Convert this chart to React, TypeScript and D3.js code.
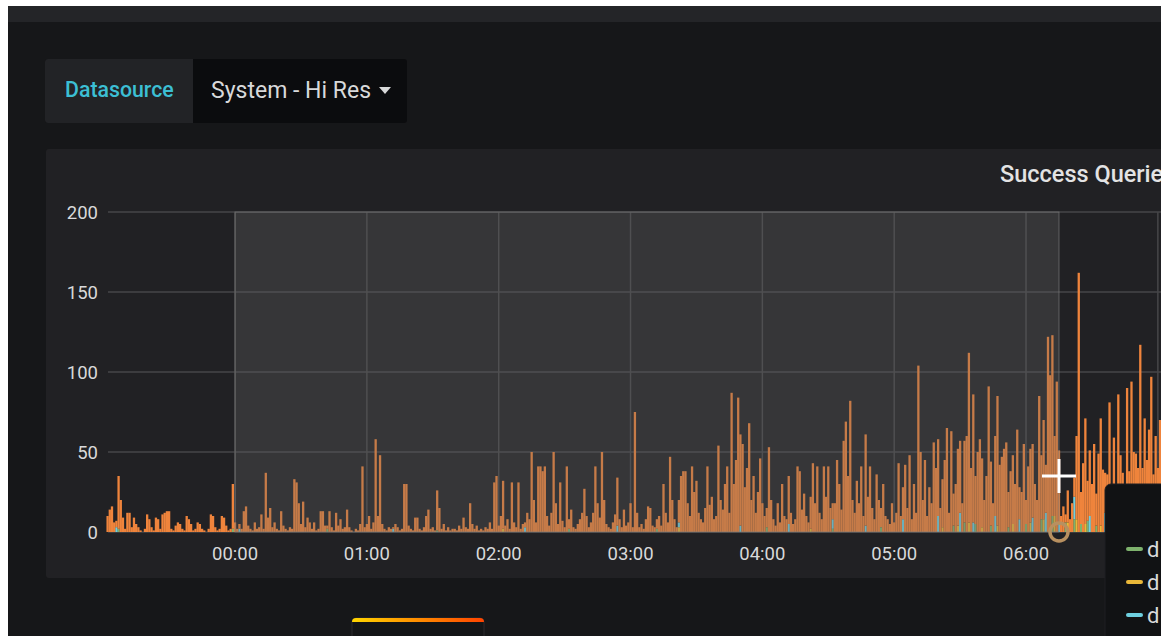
import React, { useEffect, useRef } from "react";
import * as d3 from "d3";

// y axis ticks
const yTicks = [0, 50, 100, 150, 200];

// first sample is 23:02, one sample per minute
const startTime = new Date(2018, 0, 1, 23, 2);
const endTime = new Date(2018, 0, 2, 7, 10);

// selected range (brushed area) and hover time
const selectionStart = new Date(2018, 0, 2, 0, 0);
const selectionEnd = new Date(2018, 0, 2, 6, 15);
const hoverValue = 35;

// orange series (per minute)
const orangeValues = [
  10, 14, 16, 6, 4, 33, 20, 9, 2, 12, 12, 3, 9, 5, 3, 1, 0, 2, 11, 8,
  3, 1, 9, 8, 2, 11, 12, 13, 13, 2, 1, 4, 6, 5, 2, 1, 10, 8, 5, 1,
  2, 6, 5, 2, 1, 0, 2, 11, 10, 3, 1, 2, 10, 9, 4, 1, 2, 28, 6, 2,
  3, 2, 13, 16, 4, 2, 1, 6, 2, 3, 11, 2, 37, 9, 15, 3, 6, 2, 1, 13,
  4, 2, 1, 3, 2, 33, 31, 18, 5, 19, 3, 9, 6, 2, 6, 1, 2, 13, 13, 4,
  2, 13, 3, 1, 12, 4, 8, 2, 3, 14, 3, 1, 0, 2, 1, 5, 41, 3, 5, 10,
  2, 6, 58, 10, 48, 5, 2, 1, 3, 2, 1, 5, 3, 1, 2, 30, 30, 4, 2, 1,
  9, 9, 2, 1, 3, 10, 14, 2, 3, 1, 25, 15, 2, 5, 1, 3, 1, 2, 2, 1,
  4, 2, 9, 3, 2, 18, 5, 2, 4, 1, 2, 1, 3, 2, 6, 2, 31, 35, 4, 10,
  30, 4, 8, 2, 31, 6, 3, 31, 2, 5, 3, 12, 8, 50, 20, 6, 41, 41, 38, 41,
  10, 4, 12, 50, 18, 5, 31, 7, 3, 41, 6, 14, 3, 2, 5, 8, 12, 27, 10, 3,
  6, 12, 41, 18, 9, 50, 20, 5, 3, 2, 6, 11, 30, 8, 3, 14, 4, 6, 18, 3,
  75, 12, 3, 5, 2, 8, 16, 15, 4, 3, 6, 10, 4, 30, 12, 6, 47, 20, 8, 3,
  14, 35, 38, 38, 18, 10, 41, 25, 32, 12, 8, 6, 15, 41, 17, 22, 8, 10, 54, 20,
  14, 30, 41, 12, 87, 30, 45, 84, 57, 55, 28, 40, 68, 20, 35, 12, 25, 46, 18, 10,
  12, 53, 20, 8, 4, 18, 6, 30, 10, 8, 30, 12, 5, 8, 41, 38, 14, 24, 10, 6,
  20, 43, 18, 41, 12, 8, 41, 22, 41, 15, 10, 18, 45, 30, 14, 57, 69, 35, 82, 20,
  12, 32, 18, 41, 10, 57, 22, 41, 15, 8, 36, 20, 12, 30, 10, 8, 5, 18, 6, 12,
  43, 10, 20, 42, 15, 48, 8, 30, 12, 104, 50, 20, 45, 10, 28, 18, 56, 40, 48, 15,
  30, 45, 65, 12, 63, 20, 30, 48, 45, 18, 51, 60, 106, 40, 80, 30, 50, 58, 43, 20,
  35, 91, 40, 18, 50, 81, 42, 47, 52, 56, 22, 38, 43, 30, 64, 20, 25, 55, 15, 41,
  46, 46, 30, 20, 85, 40, 62, 30, 122, 98, 113, 50, 94, 45, 10, 16, 5, 20, 8, 18,
  12, 52, 162, 20, 43, 66, 25, 41, 30, 55, 20, 49, 67, 39, 25, 30, 81, 20, 53, 30,
  81, 40, 37, 25, 90, 35, 94, 50, 45, 30, 112, 40, 71, 45, 58, 97, 30, 60, 40, 70, 105, 50,
];

// small series, [minute index, value], zero elsewhere
const greenPoints = [
  [5, 2], [57, 2], [100, 2], [150, 1], [210, 2], [250, 2], [300, 3], [330, 2], [352, 3],
  [385, 4], [390, 6], [395, 5], [402, 4], [410, 3], [418, 5], [425, 8], [430, 10], [436, 6],
  [440, 8], [443, 5], [446, 7], [450, 4], [455, 6], [460, 5], [468, 4], [474, 6],
];
const yellowPoints = [
  [180, 2], [260, 3], [320, 2], [380, 3], [387, 4], [392, 6], [398, 3], [405, 4], [412, 5],
  [420, 6], [426, 8], [431, 10], [437, 6], [441, 8], [445, 5], [452, 4], [458, 6], [465, 3], [470, 5],
];
const cyanPoints = [
  [4, 3], [60, 2], [130, 2], [190, 3], [232, 4], [260, 3], [288, 4], [310, 5], [330, 6],
  [345, 4], [362, 8], [378, 10], [388, 12], [394, 6], [404, 10], [415, 8], [421, 9], [427, 12],
  [433, 6], [440, 14], [447, 10], [454, 12], [461, 8], [469, 10], [476, 6],
];

const seriesColors = ["#7EB26D", "#EAB839", "#6ED0E0", "#EF843C"];
const legendLabels = ["d", "d", "d"];

const W = 1169;
const H = 636;

export default function App() {
  const ref = useRef<SVGSVGElement>(null);

  useEffect(() => {
    const svg = d3.select(ref.current);
    svg.selectAll("*").remove();

    const font = "Roboto, 'Helvetica Neue', Arial, sans-serif";
    const defs = svg.append("defs");
    defs.append("clipPath").attr("id", "page")
      .append("rect").attr("x", 8).attr("y", 6).attr("width", 1153).attr("height", 630);
    const grad = defs.append("linearGradient").attr("id", "tabGrad");
    grad.append("stop").attr("offset", "0%").attr("stop-color", "#ffd500");
    grad.append("stop").attr("offset", "100%").attr("stop-color", "#ff4400");

    svg.append("rect").attr("width", W).attr("height", H).attr("fill", "#ffffff");

    const page = svg.append("g").attr("clip-path", "url(#page)");
    page.append("rect").attr("x", 8).attr("y", 6).attr("width", 1153).attr("height", 630).attr("fill", "#161719");
    page.append("rect").attr("x", 8).attr("y", 6).attr("width", 1153).attr("height", 16).attr("fill", "#242528");

    // Datasource variable
    page.append("rect").attr("x", 45).attr("y", 59).attr("width", 362).attr("height", 64)
      .attr("rx", 3).attr("fill", "#0b0c0e");
    page.append("path").attr("d", "M48,59 H193 V123 H48 Q45,123 45,120 V62 Q45,59 48,59 Z").attr("fill", "#222326");
    page.append("text").attr("x", 65).attr("y", 97).attr("font-family", font).attr("font-size", 21.3)
      .attr("font-weight", 500).attr("fill", "#3cbfd4").text("Datasource");
    page.append("text").attr("x", 211).attr("y", 98).attr("font-family", font).attr("font-size", 23)
      .attr("fill", "#d8d9da").text("System - Hi Res");
    page.append("path").attr("d", "M379,87 L391,87 L385,94 Z").attr("fill", "#d8d9da");

    // panel
    page.append("rect").attr("x", 46).attr("y", 149).attr("width", 1140).attr("height", 429)
      .attr("rx", 3).attr("fill", "#212124");
    page.append("text").attr("x", 1000).attr("y", 182).attr("font-family", font).attr("font-size", 23.5)
      .attr("font-weight", 500).attr("fill", "#e3e3e3").text("Success Queries");

    const x = d3.scaleTime()
      .domain([startTime, endTime])
      .range([107.6, 107.6 + 488 * 2.1972]);
    const y = d3.scaleLinear().domain([0, 200]).range([532, 212]);

    // grid
    const grid = page.append("g");
    grid.selectAll("line.h").data(yTicks).enter().append("line")
      .attr("x1", 108).attr("x2", 1200)
      .attr("y1", d => y(d)).attr("y2", d => y(d))
      .attr("stroke", "#464648").attr("stroke-width", 1.5);
    const hours = x.ticks(d3.timeHour.every(1));
    grid.selectAll("line.v").data(hours).enter().append("line")
      .attr("x1", d => x(d)).attr("x2", d => x(d))
      .attr("y1", y(200)).attr("y2", y(0))
      .attr("stroke", "#464648").attr("stroke-width", 1.5);

    // stacked bars
    const toArr = (pts: number[][]) => {
      const a = orangeValues.map(() => 0);
      pts.forEach(([i, v]) => { a[i] = v; });
      return a;
    };
    const green = toArr(greenPoints);
    const yellow = toArr(yellowPoints);
    const cyan = toArr(cyanPoints);
    const rows = orangeValues.map((o, i) => ({
      t: d3.timeMinute.offset(startTime, i),
      g: green[i], y: yellow[i], c: cyan[i], o,
    }));
    const stack = d3.stack<any>().keys(["g", "y", "c", "o"]);
    const layers = stack(rows);
    const bw = 2.3;
    page.append("g").selectAll("g").data(layers).enter().append("g")
      .attr("fill", (d, i) => seriesColors[i])
      .selectAll("rect").data(d => d).enter().append("rect")
      .attr("x", d => x(d.data.t) - bw / 2)
      .attr("width", bw)
      .attr("y", d => y(d[1]))
      .attr("height", d => Math.max(0, y(d[0]) - y(d[1])));

    // selection overlay
    page.append("rect")
      .attr("x", x(selectionStart)).attr("y", y(200))
      .attr("width", x(selectionEnd) - x(selectionStart)).attr("height", y(0) - y(200))
      .attr("fill", "rgba(102,102,102,0.3)")
      .attr("stroke", "rgba(120,120,120,0.7)").attr("stroke-width", 1);

    // y labels
    page.append("g").selectAll("text").data(yTicks).enter().append("text")
      .attr("x", 98).attr("y", d => y(d) + 7).attr("text-anchor", "end")
      .attr("font-family", font).attr("font-size", 18.5).attr("fill", "#d8d9da")
      .text(d => d);
    // x labels (the last hour sits under the tooltip)
    page.append("g").selectAll("text").data(hours.filter(d => x(d) < 1100)).enter().append("text")
      .attr("x", d => x(d)).attr("y", 560).attr("text-anchor", "middle")
      .attr("font-family", font).attr("font-size", 18.5).attr("fill", "#d8d9da")
      .text(d => d3.timeFormat("%H:%M")(d));

    // hover marker + cursor
    const hx = x(selectionEnd);
    page.append("circle").attr("cx", hx).attr("cy", 532).attr("r", 9)
      .attr("fill", "none").attr("stroke", "#b89060").attr("stroke-width", 3.5);
    const cy = y(hoverValue);
    page.append("line").attr("x1", hx - 17).attr("x2", hx + 17).attr("y1", cy).attr("y2", cy)
      .attr("stroke", "#ffffff").attr("stroke-width", 3);
    page.append("line").attr("x1", hx).attr("x2", hx).attr("y1", cy - 17).attr("y2", cy + 17)
      .attr("stroke", "#ffffff").attr("stroke-width", 3);

    // tooltip
    page.append("rect").attr("x", 1105).attr("y", 484).attr("width", 120).attr("height", 200)
      .attr("rx", 6).attr("fill", "#111214").attr("stroke", "#1e1f22");
    legendLabels.forEach((lbl, i) => {
      const ly = 549 + i * 33;
      page.append("line").attr("x1", 1128).attr("x2", 1141).attr("y1", ly).attr("y2", ly)
        .attr("stroke", seriesColors[i]).attr("stroke-width", 4).attr("stroke-linecap", "round");
      page.append("text").attr("x", 1147).attr("y", ly + 8).attr("font-family", font)
        .attr("font-size", 22).attr("fill", "#d8d9da").text(lbl);
    });

    // bottom tab
    page.append("path").attr("d", "M352,636 V622 Q352,618 356,618 H480 Q484,618 484,622 V636")
      .attr("fill", "#141517").attr("stroke", "#2a2b2e");
    page.append("path").attr("d", "M352,622 Q352,618 356,618 H480 Q484,618 484,622 Z")
      .attr("fill", "url(#tabGrad)");
  }, []);

  return (
    <svg ref={ref} width={W} height={H}
      style={{ position: "absolute", left: 0, top: 0, display: "block" }} />
  );
}
